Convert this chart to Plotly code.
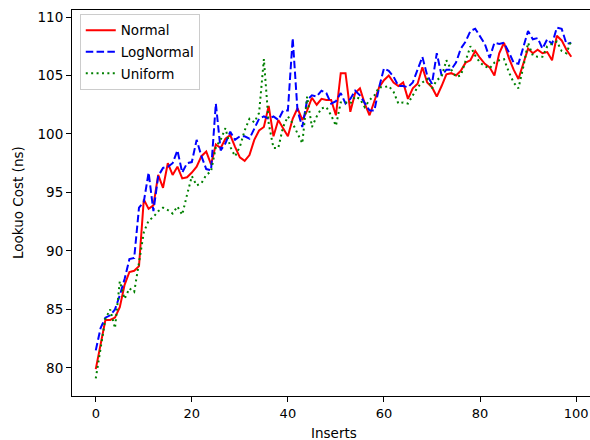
import plotly.graph_objects as go

inserts = list(range(100))

normal = [79.9, 82.0, 84.1, 84.1, 84.3, 85.2, 87.1, 88.2, 88.3, 88.7,
          94.4, 93.6, 93.9, 96.5, 95.4, 97.5, 96.5, 97.2, 96.2, 96.3,
          96.7, 97.2, 98.1, 98.5, 97.4, 99.1, 98.8, 99.6, 99.9, 98.9,
          98.0, 97.7, 98.2, 99.5, 100.3, 100.6, 102.4, 99.8, 101.2, 100.5,
          99.8, 101.3, 102.2, 101.2, 102.0, 103.1, 102.5, 103.0, 102.9, 102.9,
          101.6, 105.2, 105.2, 101.9, 103.5, 103.9, 102.6, 101.6, 102.9, 104.0,
          104.6, 105.0, 104.4, 104.1, 104.4, 103.0, 103.9, 104.3, 105.7, 104.4,
          104.0, 103.2, 104.1, 105.1, 105.2, 105.0, 105.4, 106.1, 106.3, 107.1,
          106.5, 106.0, 105.7, 105.0, 106.9, 107.8, 106.5, 105.5, 104.7, 106.0,
          107.3, 106.9, 107.2, 106.9, 107.0, 106.3, 108.4, 108.0, 107.2, 106.6]

lognormal = [81.5, 83.4, 84.3, 84.5, 85.0, 86.2, 87.6, 89.3, 89.4, 93.7,
             94.2, 96.7, 93.4, 96.4, 97.1, 97.2, 97.5, 98.6, 96.7, 97.5,
             97.6, 99.5, 98.1, 97.0, 96.9, 102.6, 98.6, 99.2, 100.2, 99.5,
             99.8, 99.8, 99.6, 100.5, 101.3, 101.5, 101.3, 101.5, 101.2, 102.0,
             102.0, 108.2, 102.0, 100.6, 102.9, 103.3, 103.2, 103.7, 103.5, 102.6,
             102.8, 103.5, 102.6, 103.0, 103.7, 103.3, 102.6, 102.0, 102.0, 104.0,
             105.6, 105.4, 104.9, 104.1, 104.1, 104.0, 104.4, 105.5, 106.6, 105.0,
             104.3, 106.9, 105.0, 105.5, 105.5, 106.1, 107.3, 107.9, 108.8, 109.0,
             108.4, 107.7, 106.5, 107.8, 107.7, 107.8, 107.0, 106.1, 106.0, 107.5,
             108.8, 108.1, 108.2, 107.3, 108.1, 107.7, 109.1, 109.0, 107.7, 107.8]

uniform = [79.1, 81.7, 84.2, 85.0, 83.4, 87.4, 85.9, 86.8, 86.5, 89.0,
           91.6, 92.6, 92.9, 93.4, 93.7, 93.5, 93.2, 93.8, 93.1, 94.8,
           96.4, 95.6, 95.8, 96.5, 96.8, 98.9, 99.5, 100.5, 98.9, 98.1,
           98.9, 100.3, 101.3, 101.0, 101.8, 106.4, 100.9, 98.8, 98.8, 100.6,
           101.5, 100.9, 100.1, 99.2, 103.2, 100.6, 101.5, 102.2, 102.3, 101.6,
           100.7, 102.7, 102.7, 102.6, 103.2, 103.0, 102.3, 102.9, 103.3, 104.0,
           104.0, 104.1, 103.6, 102.6, 102.7, 102.6, 103.3, 104.0, 104.4, 104.7,
           103.9, 104.6, 104.9, 106.3, 105.5, 104.9, 105.0, 106.3, 107.5, 106.7,
           106.1, 105.8, 105.6, 106.1, 106.3, 106.4, 105.3, 104.4, 103.9, 105.7,
           107.8, 106.7, 106.6, 106.6, 107.5, 107.7, 107.9, 107.1, 106.9, 108.0]

series_names = ["Normal", "LogNormal", "Uniform"]
x_ticks = [0, 20, 40, 60, 80, 100]
y_ticks = [80, 85, 90, 95, 100, 105, 110]
x_title = "Inserts"
y_title = "Lookuo Cost (ns)"

fig = go.Figure()
fig.add_trace(go.Scatter(x=inserts, y=normal, mode="lines", name=series_names[0],
                         legendgroup="a",
                         line=dict(color="#ff0000", width=2)))
fig.add_trace(go.Scatter(x=inserts, y=lognormal, mode="lines", name=series_names[1],
                         legendgroup="b",
                         line=dict(color="#0000ff", width=2, dash="7.5px,3.3px")))
fig.add_trace(go.Scatter(x=inserts, y=uniform, mode="lines", name=series_names[2],
                         legendgroup="c",
                         line=dict(color="#008000", width=2, dash="2px,3.4px")))

FONT = "DejaVu Sans, sans-serif"
fig.update_layout(
    width=590, height=440,
    margin=dict(l=72, r=0, t=10, b=44),
    paper_bgcolor="white", plot_bgcolor="white",
    font=dict(family=FONT, size=14, color="#000000"),
    showlegend=True,
    legend=dict(x=0.015, y=0.99, xanchor="left", yanchor="top",
                bgcolor="rgba(255,255,255,0.8)", bordercolor="#cccccc", borderwidth=1,
                font=dict(family=FONT, size=13.5, color="#000000"),
                traceorder="grouped", tracegroupgap=1),
    xaxis=dict(range=[-4.95, 102.9], tickvals=x_ticks, showgrid=False, zeroline=False,
               showline=True, linecolor="black", linewidth=1, mirror=True,
               ticks="outside", ticklen=5, tickcolor="black", automargin=False,
               ticklabeloverflow="allow",
               tickfont=dict(family=FONT, size=13, color="#000000")),
    yaxis=dict(range=[77.6, 110.6], tickvals=y_ticks, showgrid=False, zeroline=False,
               showline=True, linecolor="black", linewidth=1, mirror=False,
               ticks="outside", ticklen=5, tickcolor="black", automargin=False,
               ticklabeloverflow="allow",
               tickfont=dict(family=FONT, size=13.5, color="#000000")),
    annotations=[
        dict(text=x_title, xref="paper", yref="paper", x=(334 - 72) / 518, y=-37 / 386,
             xanchor="center", yanchor="middle", showarrow=False,
             font=dict(family=FONT, size=13.5, color="#000000")),
        dict(text=y_title, xref="paper", yref="paper", x=-54 / 518, y=0.5,
             xanchor="center", yanchor="middle", textangle=-90, showarrow=False,
             font=dict(family=FONT, size=13.5, color="#000000")),
    ],
)
fig.write_html(
    "out.html",
    config={"displayModeBar": False},
    post_script="document.body.style.margin='0';document.body.style.overflow='hidden';",
)
